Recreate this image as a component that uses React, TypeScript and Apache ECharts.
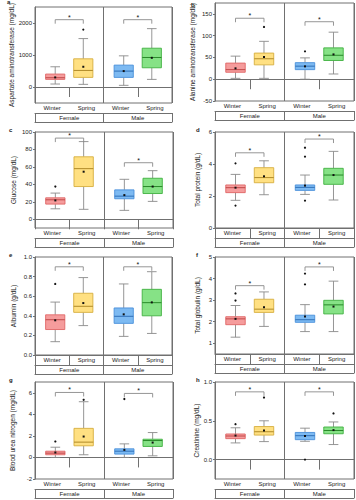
import React, { useEffect, useRef } from 'react';
import * as echarts from 'echarts';

const seasons = ['Winter', 'Spring', 'Winter', 'Spring'];
const sexes = ['Female', 'Male'];

// Boxes: [min, Q1, median, Q3, max] for Female-Winter, Female-Spring, Male-Winter, Male-Spring
const astBoxes = [[93, 238, 290, 404, 632], [83, 300, 518, 881, 1513], [52, 300, 497, 684, 974], [238, 601, 922, 1212, 1824]];
const astMeans = [300, 632, 497, 912];
const astOutliers = [[], [1793], [], []];
const astSignif = [2104, 2104];

const altBoxes = [[2, 16, 22, 37, 53], [2, 33, 47, 60, 87], [0, 22, 30, 38, 49], [12, 43, 55, 72, 108]];
const altMeans = [25, 51, 29.5, 57];
const altOutliers = [[], [120], [64], []];
const altSignif = [140, 132];

const gluBoxes = [[12, 17.4, 22.3, 24.6, 30], [11.4, 37.5, 58, 71.6, 89], [10.2, 23.5, 26.5, 33.7, 45.8], [20.5, 29.5, 37.5, 47, 55.7]];
const gluMeans = [21.6, 54.5, 27.7, 37.5];
const gluOutliers = [[37.5], [], [], []];
const gluSignif = [93, 64.8];

const tpBoxes = [[1.73, 2.21, 2.52, 2.69, 3.35], [2.08, 2.83, 3.15, 3.77, 4.2], [2.1, 2.35, 2.54, 2.69, 3.31], [1.75, 2.73, 3.31, 3.73, 4.79]];
const tpMeans = [2.52, 3.23, 2.65, 3.31];
const tpOutliers = [[4.04, 1.4], [], [5.02, 4.46, 1.71], []];
const tpSignif = [4.7, 5.56];

const albBoxes = [[0.136, 0.26, 0.36, 0.41, 0.54], [0.3, 0.435, 0.497, 0.63, 0.79], [0.19, 0.323, 0.395, 0.48, 0.725], [0.22, 0.4, 0.534, 0.67, 0.85]];
const albMeans = [0.354, 0.53, 0.415, 0.537];
const albOutliers = [[0.725], [], [], []];
const albSignif = [0.9, 0.9];

const tgBoxes = [[1.28, 1.86, 2.13, 2.23, 2.75], [1.78, 2.43, 2.58, 3.04, 3.38], [1.54, 1.97, 2.09, 2.3, 2.79], [1.54, 2.36, 2.78, 2.99, 3.88]];
const tgMeans = [2.13, 2.67, 2.24, 2.7];
const tgOutliers = [[3.31, 2.98], [], [4.23, 3.73], []];
const tgSignif = [3.67, 4.54];

const bunBoxes = [[0, 0.25, 0.4, 0.58, 0.95], [0.25, 1.08, 1.42, 2.7, 5.17], [0, 0.31, 0.58, 0.8, 1.26], [0.15, 1.02, 1.57, 1.69, 2.31]];
const bunMeans = [0.46, 1.94, 0.7, 1.38];
const bunOutliers = [[1.48], [5.35], [5.42], []];
const bunSignif = [6.03, 5.94];

const creBoxes = [[0.215, 0.27, 0.304, 0.33, 0.41], [0.232, 0.316, 0.359, 0.426, 0.5], [0.236, 0.257, 0.308, 0.35, 0.405], [0.194, 0.333, 0.375, 0.42, 0.485]];
const creMeans = [0.31, 0.375, 0.304, 0.38];
const creOutliers = [[0.456], [0.8], [0.0], [0.595]];
const creSignif = [0.873, 0.873];

const panels = [
  { letter: 'a', name: 'Aspartate aminotransferase (mg/dL)', boxes: astBoxes, means: astMeans, outliers: astOutliers, signif: astSignif, min: -500, max: 2500, ticks: [0, 1000, 2000], dec: 0, nameGap: 18 },
  { letter: 'b', name: 'Alanine aminotransferase (mg/dL)', boxes: altBoxes, means: altMeans, outliers: altOutliers, signif: altSignif, min: -50, max: 175, ticks: [-50, 0, 50, 100, 150], dec: 0, nameGap: 19 },
  { letter: 'c', name: 'Glucose (mg/dL)', boxes: gluBoxes, means: gluMeans, outliers: gluOutliers, signif: gluSignif, min: -10, max: 100, ticks: [0, 20, 40, 60, 80, 100], dec: 0, nameGap: 18 },
  { letter: 'd', name: 'Total protein (g/dL)', boxes: tpBoxes, means: tpMeans, outliers: tpOutliers, signif: tpSignif, min: 0, max: 6, ticks: [0, 2, 4, 6], dec: 0, nameGap: 14 },
  { letter: 'e', name: 'Albumin (g/dL)', boxes: albBoxes, means: albMeans, outliers: albOutliers, signif: albSignif, min: 0, max: 1, ticks: [0, 0.2, 0.4, 0.6, 0.8, 1.0], dec: 1, nameGap: 18 },
  { letter: 'f', name: 'Total globulin (g/dL)', boxes: tgBoxes, means: tgMeans, outliers: tgOutliers, signif: tgSignif, min: 0.5, max: 5, ticks: [1, 2, 3, 4, 5], dec: 0, nameGap: 14 },
  { letter: 'g', name: 'Blood urea nitrogen (mg/dL)', boxes: bunBoxes, means: bunMeans, outliers: bunOutliers, signif: bunSignif, min: -2, max: 7, ticks: [-2, 0, 2, 4, 6], dec: 0, nameGap: 19 },
  { letter: 'h', name: 'Creatinine (mg/dL)', boxes: creBoxes, means: creMeans, outliers: creOutliers, signif: creSignif, min: -0.25, max: 1.0, ticks: [0, 0.5, 1.0], dec: 1, nameGap: 14 },
];

const layout = [
  { left: 35, top: 7, width: 137, height: 96, lx: 9, ly: 3 },
  { left: 215, top: 3, width: 139, height: 98, lx: 193, ly: 6 },
  { left: 35, top: 132, width: 138, height: 96, lx: 11, ly: 131 },
  { left: 215, top: 132, width: 139, height: 96, lx: 198, ly: 131 },
  { left: 35, top: 257, width: 137, height: 98, lx: 11, ly: 256 },
  { left: 215, top: 257, width: 139, height: 97, lx: 198, ly: 256 },
  { left: 35, top: 382, width: 138, height: 97, lx: 11, ly: 381 },
  { left: 215, top: 382, width: 139, height: 97, lx: 198, ly: 381 },
];

const fills = ['#F59C9C', '#FFE082', '#7DBAF2', '#86E286'];
const borders = ['#E06666', '#D6AE3E', '#4A90DA', '#40B040'];
const medians = ['#C04848', '#B08A28', '#3070B8', '#2A8A2A'];
const frame = '#707070';
const whisk = '#8A8A8A';
const font = 'Liberation Sans, Arial, sans-serif';

function buildOption() {
  const grid: any[] = [];
  const xAxis: any[] = [];
  const yAxis: any[] = [];
  const series: any[] = [];
  const graphic: any[] = [];

  panels.forEach((p, i) => {
    const L = layout[i];
    grid.push({ left: L.left, top: L.top, width: L.width, height: L.height, show: true, borderColor: frame, borderWidth: 1 });
    xAxis.push({
      type: 'category', gridIndex: i, data: seasons, position: 'bottom', boundaryGap: true,
      axisLine: { show: true, lineStyle: { color: frame, width: 1 } },
      axisTick: { show: true, length: 10, interval: 0, lineStyle: { color: frame, width: 1 } },
      axisLabel: { fontSize: 6, margin: 2, color: '#222', interval: 0, fontFamily: font },
      splitLine: { show: false },
    });
    xAxis.push({
      type: 'category', gridIndex: i, data: sexes, position: 'bottom', offset: 10, boundaryGap: true,
      axisLine: { show: true, lineStyle: { color: frame, width: 1 } },
      axisTick: { show: true, length: 9, interval: 0, lineStyle: { color: frame, width: 1 } },
      axisLabel: { fontSize: 6, margin: 1.5, color: '#222', interval: 0, fontFamily: font },
      splitLine: { show: true, lineStyle: { color: frame, width: 1 } },
    });
    xAxis.push({
      type: 'category', gridIndex: i, data: sexes, position: 'bottom', offset: 19,
      axisLine: { show: true, lineStyle: { color: frame, width: 1 } },
      axisTick: { show: false }, axisLabel: { show: false }, splitLine: { show: false },
    });
    yAxis.push({
      type: 'value', gridIndex: i, min: p.min, max: p.max,
      axisLine: { show: true, lineStyle: { color: frame, width: 1 } },
      axisTick: { show: true, length: 2, customValues: p.ticks, lineStyle: { color: frame } },
      axisLabel: { fontSize: 6, margin: 3, color: '#222', customValues: p.ticks, fontFamily: font, formatter: (v: number) => v.toFixed(p.dec) },
      splitLine: { show: false },
      name: p.name, nameLocation: 'middle', nameGap: p.nameGap,
      nameTextStyle: { fontSize: 6.5, color: '#222', fontFamily: font },
    });

    series.push({
      type: 'custom', xAxisIndex: 3 * i, yAxisIndex: i,
      data: p.boxes.map((b, k) => [k, ...b]),
      encode: { x: 0, y: [1, 2, 3, 4, 5] },
      renderItem: (params: any, api: any) => {
        const k = api.value(0);
        const band = api.size([1, 0])[0];
        const shift = (k % 2 === 0 ? 1 : -1) * band * 0.09;
        const cx = api.coord([k, api.value(3)])[0] + shift;
        const y = (v: number) => api.coord([k, v])[1];
        const yMin = y(api.value(1)), yQ1 = y(api.value(2)), yMed = y(api.value(3)), yQ3 = y(api.value(4)), yMax = y(api.value(5));
        const bw = band * 0.56;
        const cw = bw * 0.5;
        const ws = { stroke: whisk, lineWidth: 0.9 };
        const children: any[] = [
          { type: 'line', shape: { x1: cx, y1: yQ3, x2: cx, y2: yMax }, style: ws },
          { type: 'line', shape: { x1: cx, y1: yQ1, x2: cx, y2: yMin }, style: ws },
          { type: 'line', shape: { x1: cx - cw / 2, y1: yMax, x2: cx + cw / 2, y2: yMax }, style: ws },
          { type: 'line', shape: { x1: cx - cw / 2, y1: yMin, x2: cx + cw / 2, y2: yMin }, style: ws },
          { type: 'rect', shape: { x: cx - bw / 2, y: yQ3, width: bw, height: yQ1 - yQ3 }, style: { fill: fills[k], stroke: borders[k], lineWidth: 0.9 } },
          { type: 'line', shape: { x1: cx - bw / 2, y1: yMed, x2: cx + bw / 2, y2: yMed }, style: { stroke: medians[k], lineWidth: 1 } },
        ];
        const ym = y(p.means[k]);
        children.push({ type: 'rect', shape: { x: cx - 1, y: ym - 1, width: 2, height: 2 }, style: { fill: '#111' } });
        p.outliers[k].forEach((o: number) => {
          children.push({ type: 'circle', shape: { cx, cy: y(o), r: 1.1 }, style: { fill: '#111' } });
        });
        return { type: 'group', children };
      },
    });

    series.push({
      type: 'custom', xAxisIndex: 3 * i, yAxisIndex: i,
      data: p.signif.map((s, g) => [2 * g, 2 * g + 1, s]),
      encode: { x: [0, 1], y: 2 },
      renderItem: (params: any, api: any) => {
        const band = api.size([1, 0])[0];
        const sh = band * 0.09;
        const p0 = api.coord([api.value(0), api.value(2)]);
        const p1 = api.coord([api.value(1), api.value(2)]);
        const x0 = p0[0] + sh, x1 = p1[0] - sh, yy = p0[1];
        return {
          type: 'group',
          children: [
            { type: 'polyline', shape: { points: [[x0, yy + 4], [x0, yy], [x1, yy], [x1, yy + 4]] }, style: { stroke: whisk, lineWidth: 0.9, fill: 'none' } },
            { type: 'text', x: (x0 + x1) / 2, y: yy - 2.5, style: { text: '*', fontSize: 7, fill: '#111', align: 'center', verticalAlign: 'middle', fontFamily: font } },
          ],
        };
      },
    });

    graphic.push({ type: 'text', left: L.lx - 2, top: L.ly - 4, style: { text: p.letter, fontSize: 6, fontWeight: 'bold', fill: '#222', fontFamily: font } });
  });

  return { animation: false, textStyle: { fontFamily: font }, grid, xAxis, yAxis, series, graphic };
}

export default function App() {
  const ref = useRef<HTMLDivElement>(null);
  useEffect(() => {
    if (!ref.current) return;
    const chart = echarts.init(ref.current, undefined, { renderer: 'svg' });
    chart.setOption(buildOption() as any);
    return () => chart.dispose();
  }, []);
  return <div ref={ref} style={{ position: 'fixed', left: 0, top: 0, width: 356, height: 500, background: '#fff' }} />;
}
